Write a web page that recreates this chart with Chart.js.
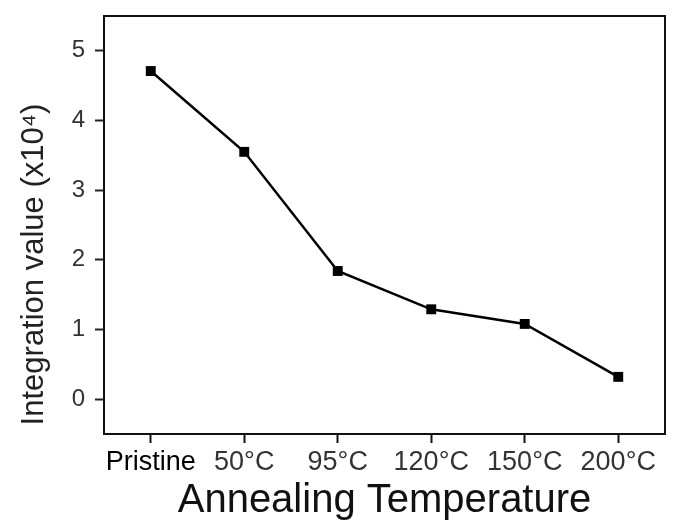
<!DOCTYPE html>
<html>
<head>
<meta charset="utf-8">
<script src="https://cdn.jsdelivr.net/npm/chart.js@4.4.0/dist/chart.umd.min.js"></script>
<style>
  html, body { margin: 0; padding: 0; background: #fff; }
  #wrap { width: 675px; height: 525px; }
</style>
</head>
<body>
<div id="wrap"><canvas id="chart"></canvas></div>
<script>
// data
const categories = ["Pristine", "50°C", "95°C", "120°C", "150°C", "200°C"];
const integrationValues = [4.71, 3.55, 1.84, 1.29, 1.08, 0.32];
const yTickValues = [0, 1, 2, 3, 4, 5];

const FONT = "'Liberation Sans', Arial, sans-serif";

// full box round the plot area
const frameBox = {
  id: "frameBox",
  afterDraw(chart) {
    const { ctx, chartArea: a } = chart;
    ctx.save();
    ctx.strokeStyle = "#111";
    ctx.lineWidth = 2;
    ctx.strokeRect(a.left, a.top, a.right - a.left, a.bottom - a.top);
    ctx.restore();
  }
};

new Chart(document.getElementById("chart"), {
  type: "line",
  data: {
    labels: categories,
    datasets: [{
      data: integrationValues,
      borderColor: "#000",
      borderWidth: 2.5,
      pointStyle: "rect",
      pointRadius: 7,
      pointBackgroundColor: "#000",
      pointBorderColor: "#000",
      pointBorderWidth: 0,
      tension: 0
    }]
  },
  options: {
    responsive: true,
    maintainAspectRatio: false,
    animation: false,
    layout: { padding: { top: 16, right: 10, left: 16, bottom: 0 } },
    plugins: { legend: { display: false }, tooltip: { enabled: false } },
    scales: {
      x: {
        offset: true,
        border: { display: false },
        grid: { drawOnChartArea: false, drawTicks: true, tickLength: 9, tickWidth: 2, tickColor: "#111", offset: false },
        ticks: {
          color: (c) => c.index === 0 ? "#000" : "#333",
          font: { family: FONT, size: 27 }, padding: 3, maxRotation: 0, autoSkip: false
        },
        title: { display: true, text: "Annealing Temperature", color: "#111", font: { family: FONT, size: 40 }, padding: { top: 0, bottom: 0 } },
        afterFit(scale) { scale.height = 91; }
      },
      y: {
        min: -0.5,
        max: 5.5,
        border: { display: false },
        grid: { drawOnChartArea: false, drawTicks: true, tickLength: 9, tickWidth: 2, tickColor: "#222" },
        ticks: { color: "#333", font: { family: FONT, size: 24 }, padding: 10 },
        afterBuildTicks(scale) { scale.ticks = yTickValues.map(v => ({ value: v })); },
        title: {
          display: true, align: "start", text: " Integration value (x10⁴)",
          color: "#222", font: { family: FONT, size: 31 }, padding: { top: 0, bottom: 0 }
        },
        afterFit(scale) {
          scale.width = 88;
          scale.paddingTop = 0;
          scale.paddingBottom = 0;
        }
      }
    }
  },
  plugins: [frameBox]
});
</script>
</body>
</html>
